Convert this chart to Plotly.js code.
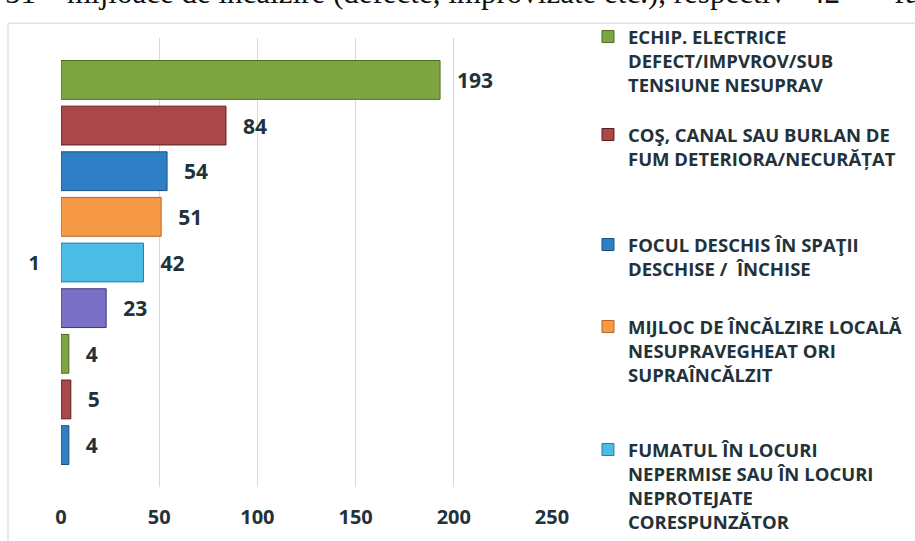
<!DOCTYPE html>
<html>
<head>
<meta charset="utf-8">
<script src="https://cdn.plot.ly/plotly-3.0.1.min.js"></script>
<style>html,body{margin:0;padding:0;background:#fff;}#chart{width:915px;height:541px;}</style>
</head>
<body>
<div id="chart"></div>
<script>
// ---- data ----
const categories = ['1'];
const seriesNames = [
  'ECHIP. ELECTRICE<br>DEFECT/IMPVROV/SUB<br>TENSIUNE NESUPRAV',
  'COŞ, CANAL SAU BURLAN DE<br>FUM DETERIORA/NECURĂȚAT',
  'FOCUL DESCHIS ÎN SPAŢII<br>DESCHISE /  ÎNCHISE',
  'MIJLOC DE ÎNCĂLZIRE LOCALĂ<br>NESUPRAVEGHEAT ORI<br>SUPRAÎNCĂLZIT',
  'FUMATUL ÎN LOCURI<br>NEPERMISE SAU ÎN LOCURI<br>NEPROTEJATE<br>CORESPUNZĂTOR',
  '', '', '', ''
];
const seriesValues = [193, 84, 54, 51, 42, 23, 4, 5, 4];
const xTickValues = [0, 50, 100, 150, 200, 250];
const headerText = '51 – mijloace de încălzire (defecte, improvizate etc.), respectiv\u00a0\u00a0\u00a042\u00a0\u00a0\u00a0–\u00a0 fu';

// ---- styles ----
const fills   = ['#7fa442', '#aa4749', '#2f7fc6', '#f79a46', '#4bbce5', '#7a70c6', '#7fa442', '#aa4749', '#2f7fc6'];
const borders = ['#4c6a22', '#5c1e1e', '#1d4f80', '#b9641f', '#2a7fa2', '#3a3584', '#4c6a22', '#5c1e1e', '#1d4f80'];
const legendIds = ['legend', 'legend2', 'legend3', 'legend4', 'legend5'];
const legendY = [0.9667, 0.7856, 0.5823, 0.4307, 0.2033];
const txtColor = '#23323a';

const traces = seriesValues.map((v, i) => ({
  type: 'bar',
  orientation: 'h',
  y: categories,
  x: [v],
  name: seriesNames[i],
  showlegend: i < 5,
  legend: i < 5 ? legendIds[i] : undefined,
  marker: {color: fills[i], line: {color: borders[i], width: 1}},
  text: [String(v)],
  texttemplate: '\u2002\u2009%{x}',
  textposition: 'outside',
  cliponaxis: false,
  textfont: {family: 'Open Sans', size: 21, color: txtColor, weight: 700},
  hoverinfo: 'x+name'
}));

const layout = {
  width: 915, height: 541,
  margin: {l: 61, r: 363, t: 38, b: 54, autoexpand: false},
  paper_bgcolor: '#ffffff',
  plot_bgcolor: '#ffffff',
  barmode: 'group',
  bargap: 0.085,
  bargroupgap: 0.15,
  font: {family: 'Open Sans', color: txtColor},
  xaxis: {
    range: [0, 250],
    tickvals: xTickValues,
    ticktext: xTickValues.map(String),
    showgrid: true, gridcolor: '#d9d9d9', gridwidth: 1,
    zeroline: false, showline: false,
    ticks: 'outside', ticklen: 12, tickcolor: 'rgba(0,0,0,0)',
    tickfont: {family: 'Open Sans', size: 20, color: txtColor, weight: 700},
    fixedrange: true
  },
  yaxis: {
    type: 'category',
    autorange: 'reversed',
    showgrid: false, zeroline: false, showline: false,
    ticks: 'outside', ticklen: 16, tickcolor: 'rgba(0,0,0,0)',
    tickfont: {family: 'Open Sans', size: 20, color: txtColor, weight: 700},
    fixedrange: true
  },
  shapes: [{
    type: 'rect', xref: 'paper', yref: 'paper',
    x0: -0.108, x1: 2, y0: -1, y1: 1.033,
    line: {color: '#d4d4d4', width: 1}, fillcolor: 'rgba(0,0,0,0)', layer: 'below'
  }],
  annotations: [{
    xref: 'paper', yref: 'paper', x: -0.118, y: 1.059,
    xanchor: 'left', yanchor: 'bottom', showarrow: false,
    text: headerText,
    font: {family: 'Liberation Serif', size: 31, color: '#111111'}
  }]
};

legendIds.forEach((id, k) => {
  layout[id] = {
    xref: 'container', yref: 'container',
    x: 0.6426, y: legendY[k], xanchor: 'left', yanchor: 'top',
    valign: 'top', bgcolor: 'rgba(0,0,0,0)', borderwidth: 0,
    font: {family: 'Open Sans', size: 18.5, color: txtColor, weight: 700},
    itemclick: false, itemdoubleclick: false
  };
});

Plotly.newPlot('chart', traces, layout, {displayModeBar: false, staticPlot: true});
</script>
</body>
</html>
